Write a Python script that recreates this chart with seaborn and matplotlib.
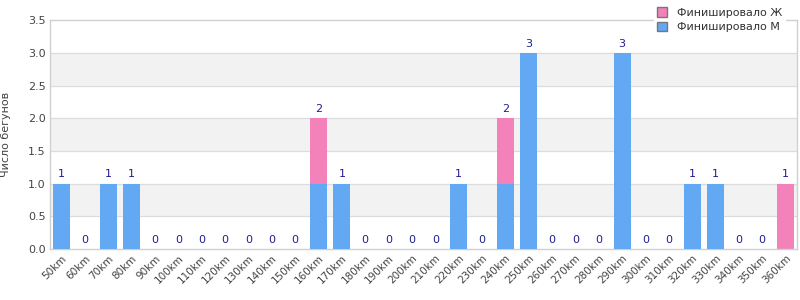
import matplotlib
matplotlib.use("Agg")
import matplotlib.pyplot as plt
import seaborn as sns
import pandas as pd
from matplotlib.patches import Patch

categories = [f"{d}km" for d in range(50, 370, 10)]
men = [1, 0, 1, 1, 0, 0, 0, 0, 0, 0, 0, 1, 1, 0, 0, 0, 0, 1, 0, 1, 3, 0, 0, 0, 3, 0, 0, 1, 1, 0, 0, 0]
women = [0, 0, 0, 0, 0, 0, 0, 0, 0, 0, 0, 1, 0, 0, 0, 0, 0, 0, 0, 1, 0, 0, 0, 0, 0, 0, 0, 0, 0, 0, 0, 1]
y_ticks = [0.0, 0.5, 1.0, 1.5, 2.0, 2.5, 3.0, 3.5]

BLUE = "#62a8f3"
PINK = "#f282b9"
LABEL = "#1f1f8f"

sns.set_theme(style="white")
plt.rcParams['font.family'] = ['DejaVu Sans']

df = pd.DataFrame({"cat": categories, "M": men, "F": women})
df["total"] = df["M"] + df["F"]

fig = plt.figure(figsize=(8, 3), dpi=100)
ax = fig.add_axes([0.0625, 0.17, 0.934, 0.763])

# alternating bands
for i in range(len(y_ticks) - 1):
    if i % 2 == 1:
        ax.axhspan(y_ticks[i], y_ticks[i + 1], color="#f2f2f2", zorder=0, lw=0)
for t in y_ticks[1:-1]:
    ax.axhline(t, color="#dcdcdc", lw=0.9, zorder=0.5)

sns.barplot(data=df, x="cat", y="total", color=PINK, saturation=1, width=0.73, ax=ax, zorder=2, linewidth=0)
sns.barplot(data=df, x="cat", y="M", color=BLUE, saturation=1, width=0.73, ax=ax, zorder=3, linewidth=0)

for i, v in enumerate(df["total"]):
    ax.annotate(str(v), (i, v), xytext=(0, 3), textcoords="offset points",
                ha="center", va="bottom", fontsize=8, color=LABEL, zorder=5)

ax.set_xlim(-0.5, len(categories) - 0.5)
ax.set_ylim(0, 3.5)
ax.set_yticks(y_ticks)
ax.set_yticklabels([f"{t:.1f}" for t in y_ticks], fontsize=8, color="#444444")
ax.set_xticks(range(len(categories)))
ax.set_xticklabels(categories, rotation=45, ha="right", rotation_mode="anchor", fontsize=7.5, color="#444444")
ax.tick_params(axis="both", length=0, pad=3)
ax.set_xlabel("")
ax.set_ylabel("Число бегунов", fontsize=8, color="#444444")
ax.yaxis.set_label_coords(-0.052, 0.5)

for s in ax.spines.values():
    s.set_color("#d0d0d0")
    s.set_linewidth(1)

handles = [Patch(facecolor=PINK, edgecolor="#777777", label="Финишировало Ж"),
           Patch(facecolor=BLUE, edgecolor="#777777", label="Финишировало М")]
leg = fig.legend(handles=handles, loc="upper left", bbox_to_anchor=(0.81, 1.005),
                 frameon=True, fontsize=8, handlelength=0.9, handleheight=0.9,
                 labelspacing=0.35, handletextpad=0.9, borderpad=0.3)
leg.get_frame().set_facecolor("white")
leg.get_frame().set_edgecolor("white")
leg.get_frame().set_alpha(1)
for t in leg.get_texts():
    t.set_color("#333333")

fig.savefig("out.png", dpi=100)
